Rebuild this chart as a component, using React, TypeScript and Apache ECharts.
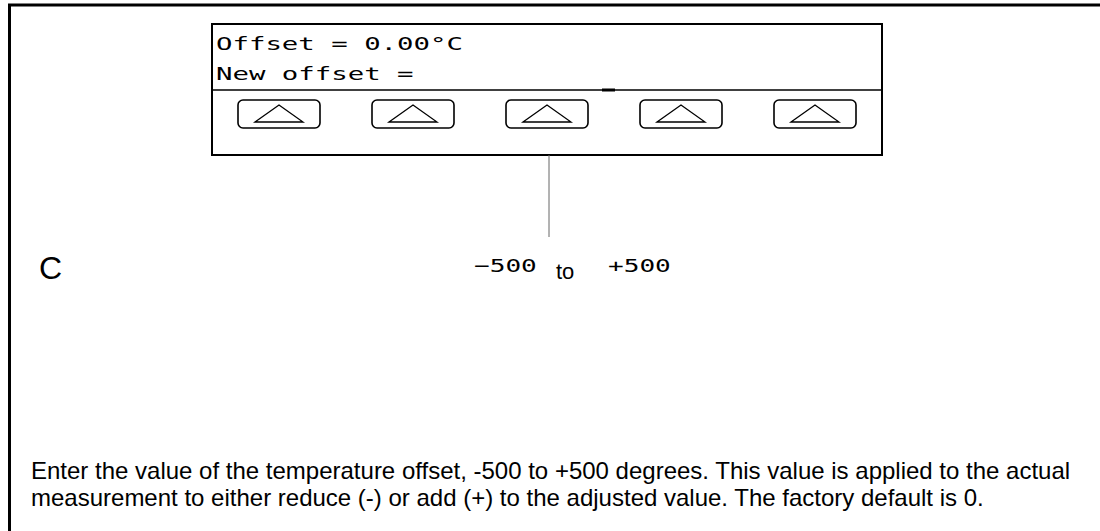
import React, { useEffect, useRef } from "react";
import * as echarts from "echarts";

const displayLines = ["Offset = 0.00\u00B0C", "New offset ="];
const buttonCount = [1, 2, 3, 4, 5];
const sideLabel = ["C"];
const rangeLabels = ["\u2212500", "to", "+500"];
const noteLines = [
  "Enter the value of the temperature offset, -500 to +500 degrees. This value is applied to the actual",
  "measurement to either reduce (-) or add (+) to the adjusted value. The factory default is 0.",
];

export default function App() {
  const ref = useRef<HTMLDivElement>(null);
  useEffect(() => {
    if (!ref.current) return;
    const chart = echarts.init(ref.current, null, { renderer: "svg" });
    const lcdFont = "DejaVu Sans Mono";
    const sans = "Liberation Sans";
    const boxL = 212, boxR = 882, boxT = 24, sepY = 90, boxB = 155;
    const btnW = 82, btnH = 28, btnT = 100;
    const btnStart = 238, btnStep = 134;
    const elements: any[] = [];
    // outer frame (top + left)
    elements.push({ type: "line", shape: { x1: 8, y1: 5, x2: 1100, y2: 5 }, style: { stroke: "#000", lineWidth: 3 } });
    elements.push({ type: "line", shape: { x1: 9.5, y1: 4, x2: 9.5, y2: 531 }, style: { stroke: "#000", lineWidth: 3 } });
    // device box
    elements.push({ type: "rect", shape: { x: boxL, y: boxT, width: boxR - boxL, height: boxB - boxT }, style: { stroke: "#000", fill: "none", lineWidth: 2 } });
    elements.push({ type: "line", shape: { x1: boxL, y1: sepY, x2: boxR, y2: sepY }, style: { stroke: "#000", lineWidth: 1.5 } });
    elements.push({ type: "line", shape: { x1: 602, y1: sepY, x2: 615, y2: sepY }, style: { stroke: "#000", lineWidth: 3 } });
    // display texts
    displayLines.forEach((t, i) => {
      elements.push({
        type: "text", x: 216, y: 44 + i * 30, scaleX: 1.52, scaleY: 1,
        style: { text: t, fontFamily: lcdFont, fontSize: 18, fill: "#000", verticalAlign: "middle" },
      });
    });
    // buttons
    buttonCount.forEach((b, i) => {
      const x = btnStart + i * btnStep;
      elements.push({ type: "rect", shape: { x, y: btnT, width: btnW, height: btnH, r: 5 }, style: { stroke: "#000", fill: "none", lineWidth: 1.6 } });
      const cx = x + btnW / 2;
      elements.push({
        type: "polygon",
        shape: { points: [[cx - 24, btnT + 22], [cx, btnT + 5], [cx + 24, btnT + 22]] },
        style: { stroke: "#000", fill: "none", lineWidth: 1.3 },
      });
    });
    // pointer line
    elements.push({ type: "line", shape: { x1: 549, y1: boxB, x2: 549, y2: 237 }, style: { stroke: "#666", lineWidth: 1 } });
    // side label
    elements.push({ type: "text", x: 39, y: 268, style: { text: sideLabel[0], fontFamily: sans, fontSize: 32, fill: "#000", verticalAlign: "middle" } });
    // range labels
    elements.push({ type: "text", x: 474, y: 266, scaleX: 1.45, style: { text: rangeLabels[0], fontFamily: lcdFont, fontSize: 18, fill: "#000", verticalAlign: "middle" } });
    elements.push({ type: "text", x: 556, y: 271, style: { text: rangeLabels[1], fontFamily: sans, fontSize: 22, fill: "#000", verticalAlign: "middle" } });
    elements.push({ type: "text", x: 608, y: 266, scaleX: 1.45, style: { text: rangeLabels[2], fontFamily: lcdFont, fontSize: 18, fill: "#000", verticalAlign: "middle" } });
    // notes
    noteLines.forEach((t, i) => {
      elements.push({ type: "text", x: 31, y: 470 + i * 27, style: { text: t, fontFamily: sans, fontSize: 24, fill: "#000", verticalAlign: "middle" } });
    });
    chart.setOption({ animation: false, backgroundColor: "#fff", graphic: { elements } });
    return () => chart.dispose();
  }, []);
  return <div ref={ref} style={{ position: "fixed", left: 0, top: 0, width: 1100, height: 531 }} />;
}
